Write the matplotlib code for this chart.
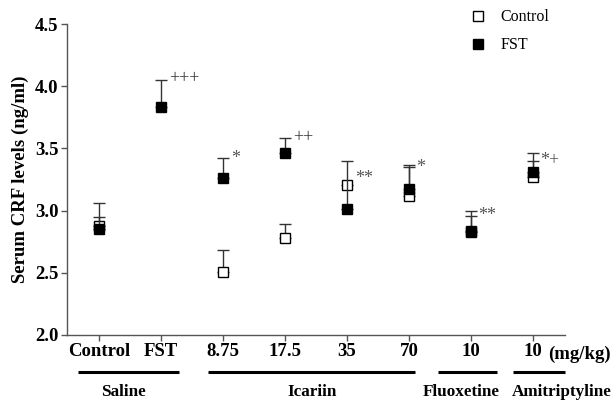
import numpy as np
import matplotlib
matplotlib.use("Agg")
import matplotlib.pyplot as plt

plt.rcParams["font.family"] = ["Liberation Serif", "DejaVu Serif"]

# tick positions / labels
doses = ["Control", "FST", "8.75", "17.5", "35", "70", "10", "10"]
# mean serum CRF (ng/ml) and SEM
control_mean = [2.88, np.nan, 2.51, 2.78, 3.21, 3.12, 2.83, 3.27]
control_sem = [0.18, np.nan, 0.17, 0.11, np.nan, 0.23, 0.13, 0.13]
fst_mean = [2.85, 3.83, 3.26, 3.46, 3.01, 3.17, 2.84, 3.31]
fst_sem = [0.10, 0.22, 0.16, 0.12, 0.39, 0.20, 0.16, 0.15]
# significance marks: text, y position
marks = ["", "+++", "*", "++", "**", "*", "**", "*+"]
mark_y = [np.nan, 4.06, 3.42, 3.59, 3.26, 3.35, 2.96, 3.41]
# treatment groups: name, x span of underline, label x
groups = ["Saline", "Icariin", "Fluoxetine", "Amitriptyline"]
group_start = [0.66, 2.76, 6.47, 7.68]
group_end = [2.29, 6.10, 7.42, 8.52]
group_label_x = [1.40, 4.43, 6.84, 8.47]

x = np.arange(1, len(doses) + 1)

fig = plt.figure(figsize=(6.13, 4.01), dpi=100)
ax = fig.add_axes([0.109, 0.1646, 0.813, 0.7754])

ekw = dict(fmt="none", ecolor="#333333", elinewidth=1.0, capsize=4.3, capthick=1.0)
ax.errorbar(x, control_mean, yerr=[np.zeros(len(x)), control_sem], zorder=1, **ekw)
ax.plot(x, control_mean, "s", ms=6.5, mfc="white", mec="black", mew=1.0,
        ls="none", zorder=2, label="Control")
ax.errorbar(x, fst_mean, yerr=[np.zeros(len(x)), fst_sem], zorder=3, **ekw)
ax.plot(x, fst_mean, "s", ms=6.5, mfc="black", mec="black", mew=1.0,
        ls="none", zorder=4, label="FST")

for xi, m, my in zip(x, marks, mark_y):
    if not m:
        continue
    ax.annotate(m, xy=(xi, my), xytext=(5.5, 0), textcoords="offset points",
                ha="left", va="center", fontsize=13,
                color="#555555" if m.startswith("*") else "#333333")

ax.set_xlim(0.48, 8.52)
ax.set_ylim(2.0, 4.5)
ax.set_yticks([2.0, 2.5, 3.0, 3.5, 4.0, 4.5])
ax.set_yticklabels(["2.0", "2.5", "3.0", "3.5", "4.0", "4.5"])
ax.set_xticks(x)
ax.set_xticklabels(doses)
for lab in ax.get_xticklabels() + ax.get_yticklabels():
    lab.set_fontweight("bold")
    lab.set_fontsize(13.5)
ax.tick_params(direction="out", length=4, width=1.0, color="#555555", pad=2)
for side in ["top", "right"]:
    ax.spines[side].set_visible(False)
for side in ["left", "bottom"]:
    ax.spines[side].set_color("#555555")
    ax.spines[side].set_linewidth(1.0)

ax.set_ylabel("Serum CRF levels (ng/ml)", fontsize=13.5, fontweight="bold", labelpad=4)

# unit next to last tick label
ax.annotate("(mg/kg)", xy=(x[-1], 0), xycoords=("data", "axes fraction"),
            xytext=(11, -7.5), textcoords="offset points", ha="left", va="top",
            fontsize=13.5, fontweight="bold")

trans = ax.get_xaxis_transform()
for name, x0, x1, lx in zip(groups, group_start, group_end, group_label_x):
    ax.plot([x0, x1], [-0.119, -0.119], color="black", lw=2.2, transform=trans,
            clip_on=False, solid_capstyle="butt")
    ax.text(lx, -0.183, name, transform=trans, ha="center", va="center",
            fontsize=12.3, fontweight="bold")

fig.legend(loc="upper left", bbox_to_anchor=(0.757, 0.993), frameon=False,
           fontsize=11.5, handlelength=1.0, handletextpad=0.9, labelspacing=0.75,
           borderaxespad=0)

fig.savefig("out.png", dpi=100)
